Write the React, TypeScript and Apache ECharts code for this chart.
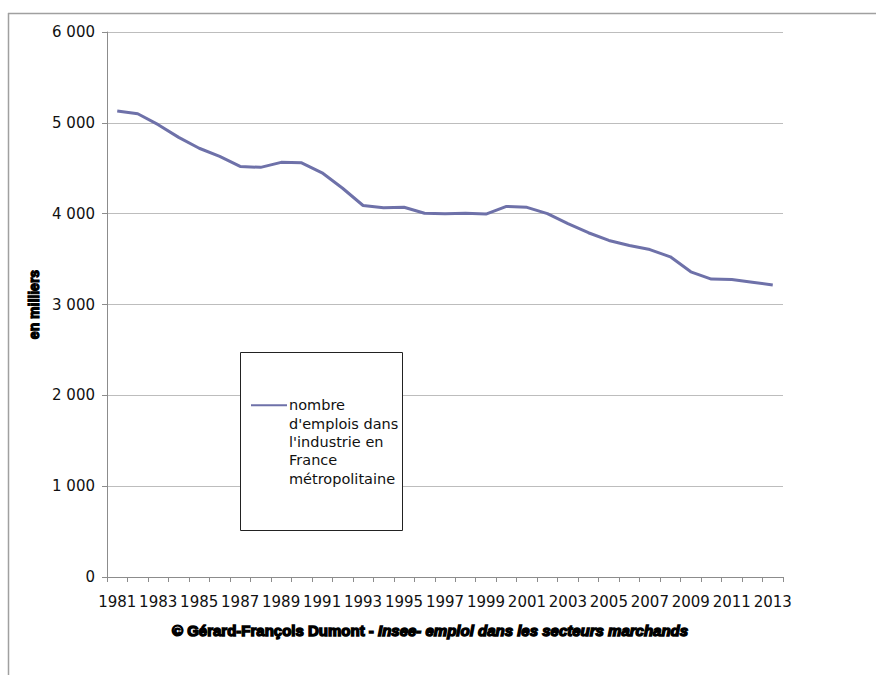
import React, { useEffect, useRef } from "react";
import * as echarts from "echarts";

const years: string[] = [
  "1981","1982","1983","1984","1985","1986","1987","1988","1989","1990",
  "1991","1992","1993","1994","1995","1996","1997","1998","1999","2000",
  "2001","2002","2003","2004","2005","2006","2007","2008","2009","2010",
  "2011","2012","2013",
];
const emplois: number[] = [
  5130, 5100, 4980, 4840, 4720, 4630, 4520, 4510, 4565, 4560,
  4450, 4280, 4090, 4065, 4070, 4005, 4000, 4005, 3995, 4080,
  4070, 4000, 3890, 3790, 3705, 3650, 3605, 3525, 3360, 3280,
  3275, 3245, 3215,
];
const seriesName = "nombre\nd'emplois dans\nl'industrie en\nFrance\nmétropolitaine";
const yAxisName = "en milliers";
const captionPlain = "© Gérard-François Dumont - ";
const captionItalic = "Insee- emploi dans les secteurs marchands";

const fmt = (v: number) => {
  const s = String(Math.round(v));
  return s.replace(/\B(?=(\d{3})+(?!\d))/g, " ");
};

export default function App() {
  const ref = useRef<HTMLDivElement>(null);
  useEffect(() => {
    if (!ref.current) return;
    const chart = echarts.init(ref.current, null, { renderer: "svg" });
    const lineColor = "#6e71a9";
    chart.setOption({
      animation: false,
      backgroundColor: "#ffffff",
      grid: { left: 107, right: 876 - 783, top: 32, bottom: 675 - 577, containLabel: false },
      xAxis: {
        type: "category",
        data: years,
        boundaryGap: true,
        axisLine: { lineStyle: { color: "#8c8c8c", width: 1 } },
        axisTick: { show: true, length: 5, interval: 0, lineStyle: { color: "#8c8c8c" } },
        axisLabel: {
          interval: 1,
          color: "#111",
          fontFamily: "DejaVu Sans",
          fontSize: 15,
          margin: 17,
        },
        splitLine: { show: false },
      },
      yAxis: {
        type: "value",
        min: 0,
        max: 6000,
        interval: 1000,
        name: yAxisName,
        nameLocation: "middle",
        nameGap: 66,
        nameRotate: 90,
        nameTextStyle: {
          fontFamily: "Liberation Sans",
          fontWeight: "bold",
          fontSize: 14,
          color: "#000",
          textBorderColor: "#000",
          textBorderWidth: 1.2,
        },
        axisLine: { show: true, lineStyle: { color: "#8c8c8c", width: 1 } },
        axisTick: { show: true, length: 5, lineStyle: { color: "#8c8c8c" } },
        axisLabel: {
          color: "#111",
          fontFamily: "DejaVu Sans",
          fontSize: 15,
          margin: 12,
          formatter: (v: number) => fmt(v),
        },
        splitLine: { show: true, lineStyle: { color: "#bdbdbd", width: 1 } },
      },
      legend: {
        show: true,
        orient: "vertical",
        left: 251,
        top: 323,
        padding: 0,
        itemWidth: 36,
        itemHeight: 2,
        itemGap: 2,
        icon: "rect",
        formatter: (name: string) => "\n\n\n\n" + name,
        textStyle: {
          fontFamily: "DejaVu Sans",
          fontSize: 14.5,
          color: "#111",
          lineHeight: 18.3,
          padding: [0, 0, 0, -3],
        },
        data: [{ name: seriesName }],
      },
      graphic: [
        {
          type: "line",
          shape: { x1: 8, y1: 13.5, x2: 876, y2: 13.5 },
          style: { stroke: "#a0a0a0", lineWidth: 1.5 },
          silent: true,
        },
        {
          type: "line",
          shape: { x1: 8.5, y1: 13, x2: 8.5, y2: 675 },
          style: { stroke: "#a0a0a0", lineWidth: 1.5 },
          silent: true,
        },
        {
          type: "rect",
          shape: { x: 240.5, y: 352.5, width: 162, height: 178 },
          style: { fill: "#ffffff", stroke: "#222", lineWidth: 1 },
          z: 3,
          silent: true,
        },
        {
          type: "text",
          x: 430,
          y: 630,
          style: {
            text: "{a|" + captionPlain + "}{b|" + captionItalic + "}",
            align: "center",
            verticalAlign: "middle",
            rich: {
              a: {
                fontFamily: "Liberation Sans",
                fontWeight: "bold",
                fontSize: 15,
                fill: "#000",
                stroke: "#000",
                lineWidth: 1.4,
              },
              b: {
                fontFamily: "Liberation Sans",
                fontWeight: "bold",
                fontStyle: "italic",
                fontSize: 15,
                fill: "#000",
                stroke: "#000",
                lineWidth: 1.4,
              },
            },
          },
          silent: true,
        },
      ],
      series: [
        {
          name: seriesName,
          type: "line",
          data: emplois,
          symbol: "none",
          showSymbol: false,
          lineStyle: { color: lineColor, width: 3 },
          itemStyle: { color: lineColor },
        },
      ],
    });
    return () => chart.dispose();
  }, []);
  return <div ref={ref} style={{ width: 876, height: 675, position: "absolute", left: 0, top: 0 }} />;
}
